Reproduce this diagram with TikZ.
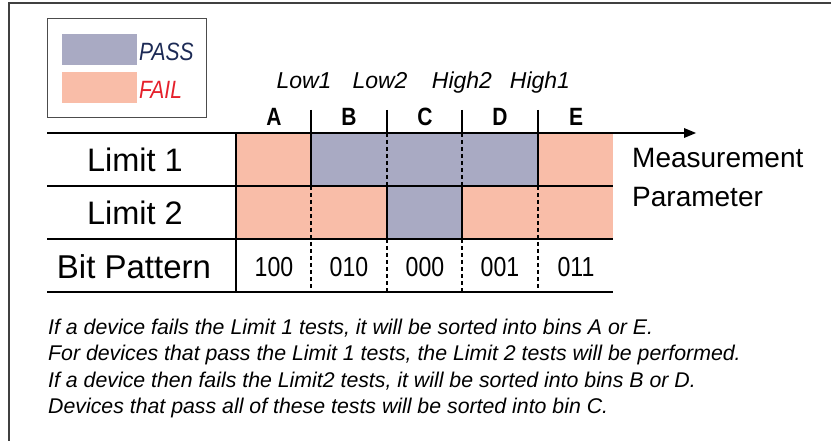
\documentclass[tikz,border=0pt]{standalone}
\usepackage{fontspec}
\setmainfont{Liberation Sans}
\newfontfamily\condfont{Liberation Sans}[FakeStretch=0.84]
\usepackage{tikz}

\definecolor{passc}{HTML}{A9AAC3}
\definecolor{failc}{HTML}{F9BDA8}
\definecolor{passtxt}{HTML}{1C2A55}
\definecolor{failtxt}{HTML}{E5202B}

\begin{document}
\begin{tikzpicture}[x=1pt,y=-1pt,
    swatch/.style={minimum width=75pt,minimum height=31pt,inner sep=0pt},
    legtxt/.style={anchor=west,font=\condfont\fontsize{25}{28}\selectfont\itshape},
    binlab/.style={anchor=base,font=\condfont\fontsize{25}{28}\selectfont\bfseries},
    limlab/.style={anchor=base,font=\fontsize{23}{26}\selectfont\itshape},
    rowlab/.style={font=\fontsize{32.5}{36}\selectfont},
    bitval/.style={font=\condfont\fontsize{27.5}{30}\selectfont},
    note/.style={font=\fontsize{21.3}{26.2}\selectfont\itshape,align=left,anchor=north west},
    grid/.style={line width=1.8pt},
    dashgrid/.style={line width=1.3pt,dash pattern=on 4pt off 3pt}]
  \tikzstyle{every node}+=[inner sep=0pt]
  \useasboundingbox (0,0) rectangle (831,441);
  \draw [line width=1.6pt,black!75] (9,441) -- (9,3) -- (831,3);
  % legend
  \draw [line width=1pt,black!70] (47,19) rectangle (206,118);
  \node [swatch,fill=passc] (passbox) at (99.5,50) {};
  \node [swatch,fill=failc] (failbox) at (99.5,87.5) {};
  \node [legtxt,text=passtxt] (passlab) at (139,52) {PASS};
  \node [legtxt,text=failtxt] (faillab) at (139,90) {FAIL};
  % cells
  \fill [failc] (236,133) rectangle (311,186);
  \fill [passc] (311,133) rectangle (538,186);
  \fill [failc] (538,133) rectangle (613,186);
  \fill [failc] (236,186) rectangle (387,239);
  \fill [passc] (387,186) rectangle (462,239);
  \fill [failc] (462,186) rectangle (613,239);
  % limits
  \node [limlab] (low1) at (304,89) {Low1};
  \node [limlab] (low2) at (380,89) {Low2};
  \node [limlab] (high2) at (462,89) {High2};
  \node [limlab] (high1) at (540,89) {High1};
  % bins
  \node [binlab] (binA) at (274,126) {A};
  \node [binlab] (binB) at (349,126) {B};
  \node [binlab] (binC) at (425,126) {C};
  \node [binlab] (binD) at (500,126) {D};
  \node [binlab] (binE) at (576,126) {E};
  \foreach \x in {311,387,462,538}
    \draw [line width=1.6pt] (\x,110) -- (\x,133);
  % axis
  \coordinate (axisstart) at (47,133);
  \coordinate (axisend) at (696,133);
  \draw [line width=2.6pt] (axisstart) -- (686,133);
  \fill [black] (axisend) -- (684,128) -- (684,138);
  % table lines
  \draw [grid] (47,186) -- (613,186);
  \draw [grid] (47,239) -- (613,239);
  \draw [grid] (47,292) -- (613,292);
  \draw [grid] (236,133) -- (236,292);
  \draw [grid] (311,133) -- (311,186);
  \draw [grid] (538,133) -- (538,186);
  \draw [grid] (387,186) -- (387,239);
  \draw [grid] (462,186) -- (462,239);
  \draw [dashgrid] (387,133) -- (387,186);
  \draw [dashgrid] (462,133) -- (462,186);
  \draw [dashgrid] (311,186) -- (311,292);
  \draw [dashgrid] (538,186) -- (538,292);
  \draw [dashgrid] (387,239) -- (387,292);
  \draw [dashgrid] (462,239) -- (462,292);
  % row labels
  \node [rowlab] (lim1) at (135,160) {Limit 1};
  \node [rowlab] (lim2) at (135,213) {Limit 2};
  \node [rowlab,font=\fontsize{33}{40}\selectfont] (bitpat) at (134,267) {Bit Pattern};
  % bit values
  \node [bitval] (bitA) at (274,267) {100};
  \node [bitval] (bitB) at (349,267) {010};
  \node [bitval] (bitC) at (425,267) {000};
  \node [bitval] (bitD) at (500,267) {001};
  \node [bitval] (bitE) at (576,267) {011};
  % axis label
  \node [font=\fontsize{28}{39}\selectfont,anchor=north west,align=left] (measpar) at (632,148) {Measurement\\Parameter};
  % notes
  \node [note] (notes) at (48,319) {If a device fails the Limit 1 tests, it will be sorted into bins A or E.\\
    For devices that pass the Limit 1 tests, the Limit 2 tests will be performed.\\
    If a device then fails the Limit2 tests, it will be sorted into bins B or D.\\
    Devices that pass all of these tests will be sorted into bin C.};
\end{tikzpicture}
\end{document}
